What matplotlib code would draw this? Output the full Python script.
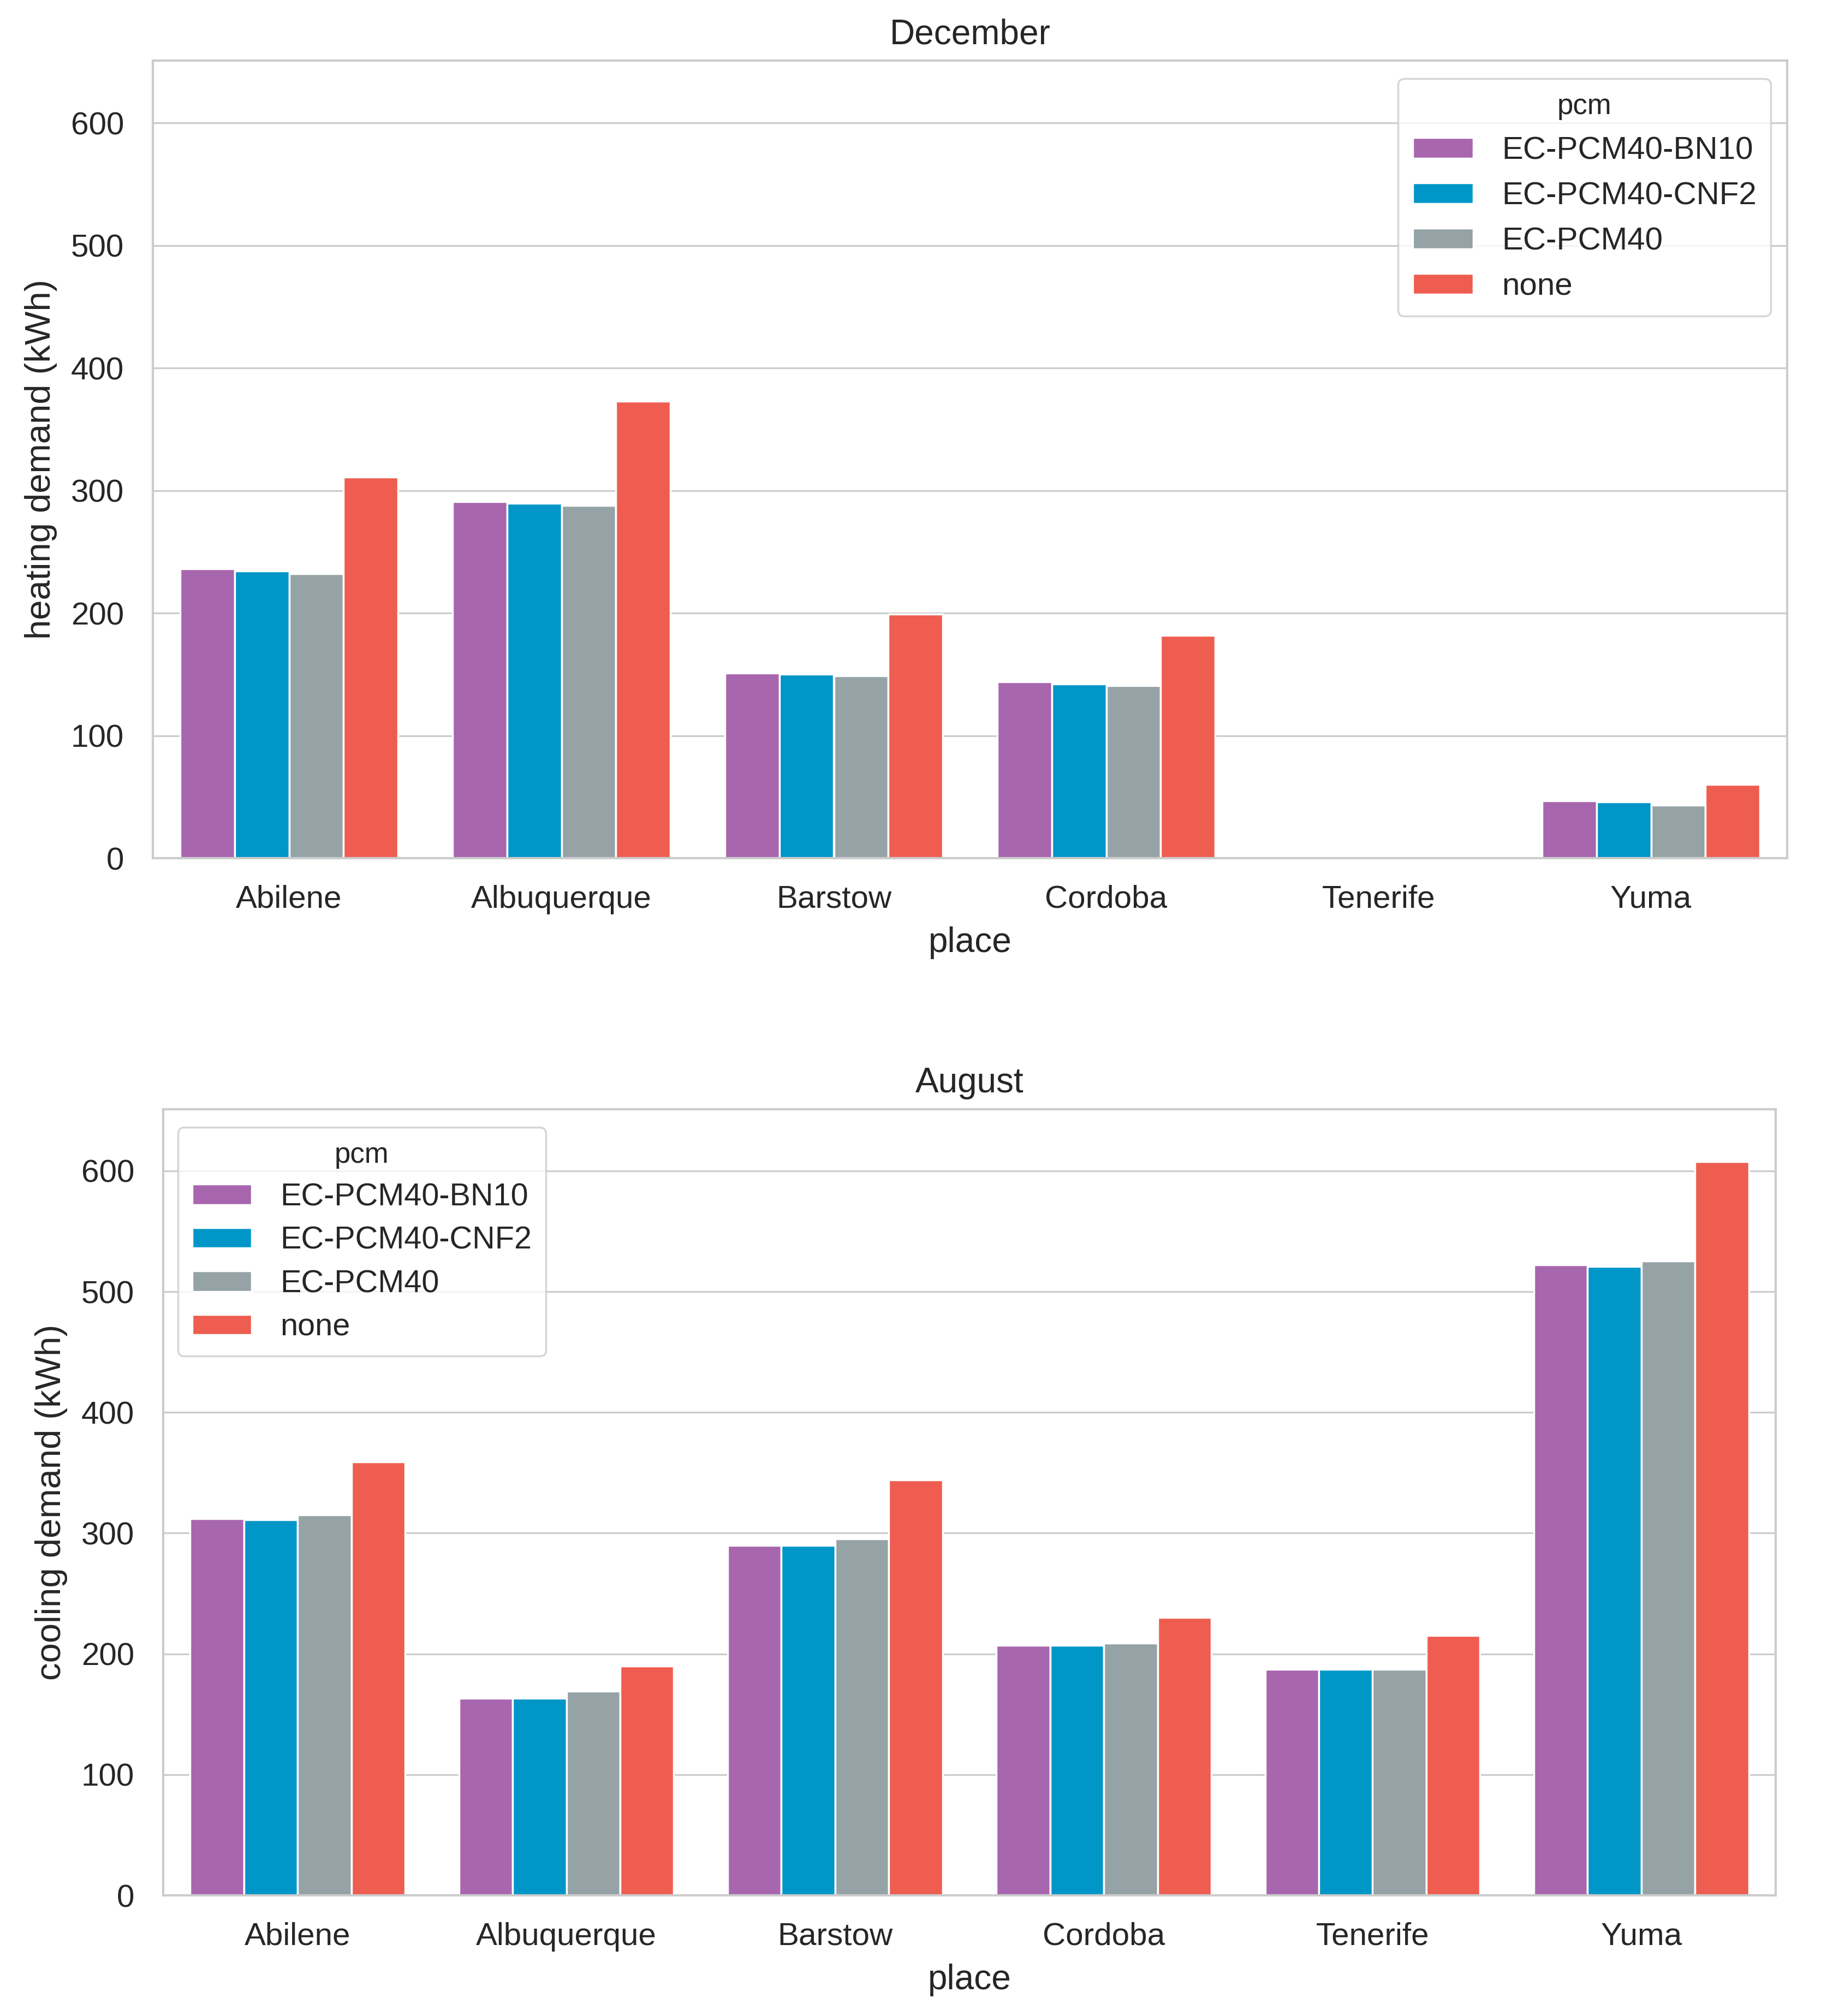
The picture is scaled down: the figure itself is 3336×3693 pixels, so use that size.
import matplotlib
matplotlib.use("Agg")
import matplotlib.pyplot as plt
import numpy as np

places = ["Abilene", "Albuquerque", "Barstow", "Cordoba", "Tenerife", "Yuma"]
pcms = ["EC-PCM40-BN10", "EC-PCM40-CNF2", "EC-PCM40", "none"]
colors = ["#a866ae", "#0096c8", "#96a3a6", "#ee5d50"]

heat_bn10 = [236, 291, 151, 144, 0, 47]
heat_cnf2 = [234.5, 289.5, 150, 142, 0, 46]
heat_pcm40 = [232, 288, 149, 141, 0, 43]
heat_none = [311, 373, 199, 182, 0, 60]

cool_bn10 = [312, 163, 290, 207, 187, 522]
cool_cnf2 = [311, 163, 290, 207, 187, 521]
cool_pcm40 = [315, 169, 295, 209, 187, 525.5]
cool_none = [359, 190, 344, 230, 215, 607.5]

TXT = "#262626"
GRID = "#cccccc"
plt.rcParams["font.family"] = ["Liberation Sans", "DejaVu Sans"]

fig = plt.figure(figsize=(33.36, 36.93), dpi=100)
W, H = 3336, 3693


def make_axes(l, r, t, b):
    return fig.add_axes([l / W, 1 - b / H, (r - l) / W, (b - t) / H])


def draw(ax, series, title, ylabel, legend_anchor, legend_loc, leg_fs, leg_ls):
    x = np.arange(len(places))
    w = 0.2
    for i, (vals, name, c) in enumerate(zip(series, pcms, colors)):
        ax.bar(x + (i - 1.5) * w, vals, width=w, color=c, edgecolor="white",
               linewidth=2.5, label=name, zorder=2)
    ax.set_xlim(-0.5, 5.5)
    ax.set_ylim(0, 651)
    ax.set_yticks([0, 100, 200, 300, 400, 500, 600])
    ax.set_xticks(x)
    ax.set_xticklabels(places)
    ax.grid(axis="y", color=GRID, linewidth=2.3, zorder=0)
    ax.set_axisbelow(True)
    for s in ax.spines.values():
        s.set_color(GRID)
        s.set_linewidth(3)
    ax.tick_params(axis="x", length=0, pad=35, labelsize=42, labelcolor=TXT)
    ax.tick_params(axis="y", length=0, pad=38, labelsize=42, labelcolor=TXT)
    ax.set_title(title, fontsize=46, color=TXT, pad=22)
    ax.set_xlabel("place", fontsize=46, color=TXT, labelpad=16)
    ax.set_ylabel(ylabel, fontsize=47, color=TXT, labelpad=18)
    leg = ax.legend(title="pcm", loc=legend_loc, bbox_to_anchor=legend_anchor,
                    borderaxespad=0, fontsize=leg_fs, title_fontsize=38,
                    handlelength=1.9, handleheight=0.62, handletextpad=0.9,
                    labelspacing=leg_ls, borderpad=0.45, frameon=True,
                    fancybox=True, framealpha=0.8, edgecolor=GRID)
    leg.get_frame().set_linewidth(2.5)
    for t in leg.get_texts():
        t.set_color(TXT)
    leg.get_title().set_color(TXT)


ax1 = make_axes(280, 3274, 111, 1572)
draw(ax1, [heat_bn10, heat_cnf2, heat_pcm40, heat_none], "December",
     "heating demand (kWh)", (0.990, 0.9775), "upper right", 42, 0.5)

ax2 = make_axes(299, 3253, 2032, 3472)
draw(ax2, [cool_bn10, cool_cnf2, cool_pcm40, cool_none], "August",
     "cooling demand (kWh)", (0.009, 0.977), "upper left", 41.5, 0.44)

fig.savefig("out.png", dpi=100, facecolor="white")
